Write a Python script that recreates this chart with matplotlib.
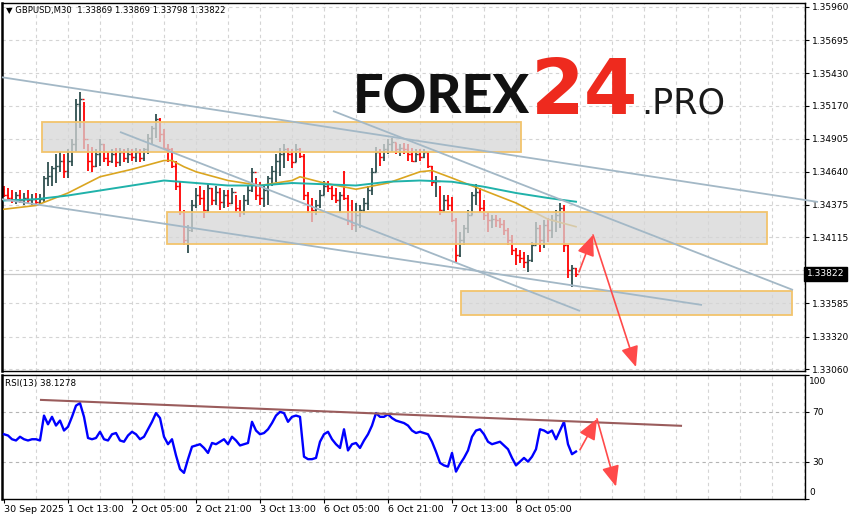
import matplotlib
matplotlib.use("Agg")
import matplotlib.pyplot as plt
import numpy as np
from matplotlib.patches import Rectangle
from matplotlib.transforms import blended_transform_factory

# ---------------- data (hourly bars, GBPUSD) ----------------
first_open = 1.3450
highs = [1.3453, 1.3451, 1.3449, 1.3448, 1.3449, 1.3447, 1.3449, 1.3446, 1.3447, 1.3446,
         1.3461, 1.3472, 1.3469, 1.3478, 1.3480, 1.3478, 1.3482, 1.3490, 1.3522, 1.3528,
         1.3520, 1.3486, 1.3484, 1.3482, 1.3490, 1.3486, 1.3480, 1.3482, 1.3483, 1.3483,
         1.3482, 1.3483, 1.3482, 1.3483, 1.3482, 1.3483, 1.3494, 1.3501, 1.3510, 1.3507,
         1.3498, 1.3486, 1.3483, 1.3473, 1.3457, 1.3433, 1.3421, 1.3441, 1.3451, 1.3453,
         1.3449, 1.3454, 1.3451, 1.3453, 1.3451, 1.3449, 1.3449, 1.3451, 1.3445, 1.3441,
         1.3445, 1.3453, 1.3467, 1.3459, 1.3456, 1.3453, 1.3461, 1.3469, 1.3478, 1.3483,
         1.3486, 1.3483, 1.3482, 1.3486, 1.3483, 1.3478, 1.3448, 1.3443, 1.3441, 1.3449,
         1.3457, 1.3457, 1.3453, 1.3451, 1.3448, 1.3465, 1.3445, 1.3441, 1.3439, 1.3437,
         1.3443, 1.3453, 1.3467, 1.3484, 1.3482, 1.3486, 1.3490, 1.3491, 1.3487, 1.3486,
         1.3487, 1.3486, 1.3483, 1.3482, 1.3482, 1.3482, 1.3480, 1.3469, 1.3461, 1.3453,
         1.3445, 1.3445, 1.3444, 1.3427, 1.3416, 1.3421, 1.3433, 1.3448, 1.3454, 1.3451,
         1.3441, 1.3432, 1.3429, 1.3429, 1.3427, 1.3425, 1.3419, 1.3413, 1.3403, 1.3401,
         1.3400, 1.3397, 1.3408, 1.3424, 1.3421, 1.3425, 1.3427, 1.3429, 1.3433, 1.3439,
         1.3437, 1.3405, 1.3389, 1.33869]
lows = [1.3444, 1.3441, 1.3439, 1.3438, 1.3439, 1.3437, 1.3438, 1.3437, 1.3437, 1.3438,
        1.3440, 1.3453, 1.3453, 1.3455, 1.3464, 1.3459, 1.3459, 1.3469, 1.3480, 1.3499,
        1.3482, 1.3465, 1.3464, 1.3468, 1.3469, 1.3472, 1.3469, 1.3471, 1.3468, 1.3469,
        1.3472, 1.3471, 1.3473, 1.3472, 1.3472, 1.3473, 1.3478, 1.3486, 1.3491, 1.3488,
        1.3482, 1.3472, 1.3467, 1.3449, 1.3429, 1.3405, 1.3399, 1.3416, 1.3435, 1.3437,
        1.3427, 1.3432, 1.3437, 1.3437, 1.3433, 1.3435, 1.3436, 1.3438, 1.3432, 1.3428,
        1.3429, 1.3437, 1.3448, 1.3441, 1.3437, 1.3436, 1.3437, 1.3453, 1.3456, 1.3461,
        1.3467, 1.3473, 1.3467, 1.3472, 1.3475, 1.3441, 1.3431, 1.3424, 1.3429, 1.3435,
        1.3445, 1.3448, 1.3441, 1.3439, 1.3431, 1.3441, 1.3421, 1.3417, 1.3416, 1.3419,
        1.3432, 1.3433, 1.3445, 1.3464, 1.3469, 1.3473, 1.3478, 1.3480, 1.3478, 1.3477,
        1.3478, 1.3473, 1.3472, 1.3472, 1.3473, 1.3475, 1.3467, 1.3453, 1.3444, 1.3429,
        1.3432, 1.3433, 1.3424, 1.3392, 1.3396, 1.3405, 1.3415, 1.3429, 1.3437, 1.3432,
        1.3425, 1.3416, 1.3419, 1.3420, 1.3419, 1.3413, 1.3405, 1.3397, 1.3389, 1.3391,
        1.3387, 1.3384, 1.3392, 1.3405, 1.3400, 1.3403, 1.3408, 1.3411, 1.3416, 1.3419,
        1.3400, 1.3379, 1.3372, 1.33798]
closes = [1.3445, 1.3443, 1.3441, 1.3445, 1.3441, 1.3443, 1.3441, 1.3442, 1.3440, 1.3442,
          1.3459, 1.3461, 1.3467, 1.3469, 1.3473, 1.3465, 1.3473, 1.3486, 1.3518, 1.3522,
          1.3490, 1.3473, 1.3469, 1.3478, 1.3486, 1.3475, 1.3473, 1.3478, 1.3472, 1.3480,
          1.3475, 1.3478, 1.3476, 1.3480, 1.3475, 1.3482, 1.3491, 1.3499, 1.3506, 1.3494,
          1.3483, 1.3482, 1.3469, 1.3453, 1.3432, 1.3409, 1.3417, 1.3437, 1.3445, 1.3443,
          1.3433, 1.3451, 1.3441, 1.3448, 1.3440, 1.3445, 1.3439, 1.3448, 1.3435, 1.3432,
          1.3441, 1.3449, 1.3464, 1.3445, 1.3443, 1.3449, 1.3459, 1.3465, 1.3473, 1.3478,
          1.3482, 1.3478, 1.3472, 1.3482, 1.3477, 1.3445, 1.3437, 1.3433, 1.3437, 1.3445,
          1.3453, 1.3451, 1.3445, 1.3441, 1.3445, 1.3443, 1.3425, 1.3421, 1.3429, 1.3433,
          1.3439, 1.3449, 1.3464, 1.3480, 1.3476, 1.3482, 1.3486, 1.3488, 1.3482, 1.3483,
          1.3482, 1.3478, 1.3473, 1.3478, 1.3476, 1.3480, 1.3469, 1.3456, 1.3457, 1.3433,
          1.3441, 1.3437, 1.3425, 1.3397, 1.3409, 1.3419, 1.3429, 1.3445, 1.3448, 1.3435,
          1.3429, 1.3425, 1.3426, 1.3425, 1.3422, 1.3417, 1.3409, 1.3401, 1.3397, 1.3395,
          1.3392, 1.3393, 1.3405, 1.3419, 1.3409, 1.3421, 1.3417, 1.3425, 1.3429, 1.3435,
          1.3405, 1.3385, 1.33869, 1.33822]

ma_orange_idx = [0, 8, 16, 24, 32, 40, 42, 45, 48, 56, 64, 72, 74, 80, 88, 96, 104, 107, 112, 120, 128, 136, 143]
ma_orange = [1.3434, 1.3437, 1.3447, 1.3460, 1.3466, 1.3473, 1.3473, 1.3468, 1.3464, 1.3457, 1.3453, 1.3457,
             1.3460, 1.3455, 1.3450, 1.3455, 1.3464, 1.3465, 1.3459, 1.3449, 1.3439, 1.3426, 1.3420]
ma_teal_idx = [0, 8, 16, 24, 32, 40, 48, 56, 64, 72, 80, 88, 96, 104, 112, 120, 128, 136, 143]
ma_teal = [1.3441, 1.3442, 1.3445, 1.3449, 1.3453, 1.3457, 1.3455, 1.3453, 1.3453, 1.3455, 1.3454, 1.3453,
           1.3456, 1.3457, 1.3456, 1.3452, 1.3447, 1.3443, 1.3440]

rsi_values = [52, 51, 48, 47, 50, 48, 47, 48, 48, 47, 67, 60, 66, 59, 63, 55, 58, 66, 75, 77,
              66, 49, 48, 49, 54, 48, 47, 52, 53, 47, 46, 51, 54, 52, 48, 50, 56, 62, 69, 65,
              50, 44, 48, 35, 24, 21, 32, 42, 43, 44, 41, 37, 45, 44, 46, 48, 44, 50, 47, 43,
              44, 45, 62, 55, 52, 53, 56, 61, 67, 70, 69, 62, 66, 67, 66, 34, 32, 32, 33, 46,
              52, 54, 48, 44, 41, 56, 39, 44, 45, 41, 47, 52, 59, 69, 66, 66, 68, 65, 63, 62,
              61, 59, 55, 53, 54, 53, 52, 46, 38, 29, 27, 26, 37, 22, 28, 33, 39, 50, 55, 56,
              52, 46, 44, 45, 46, 43, 40, 33, 27, 30, 33, 30, 34, 40, 56, 55, 53, 55, 48, 55,
              62, 44, 36, 38.1278]

price_ticks = [1.35960, 1.35695, 1.35430, 1.35170, 1.34905, 1.34640, 1.34375, 1.34115,
               1.33850, 1.33585, 1.33320, 1.33060]
time_labels = ["30 Sep 2025", "1 Oct 13:00", "2 Oct 05:00", "2 Oct 21:00", "3 Oct 13:00",
               "6 Oct 05:00", "6 Oct 21:00", "7 Oct 13:00", "8 Oct 05:00"]
time_label_idx = [0, 16, 32, 48, 64, 80, 96, 112, 128]

zones = [(9.5, 129.25, 1.3480, 1.3504),
         (40.75, 190.75, 1.34062, 1.34318),
         (114.25, 197.0, 1.33493, 1.33685)]
trend_lines = [((-0.5, 1.35397), (203.5, 1.34398)),
               ((29.0, 1.34959), (144.0, 1.33525)),
               ((82.25, 1.35127), (197.25, 1.33693)),
               ((-0.5, 1.34420), (174.5, 1.33573))]
forecast_price = [(143.75, 1.33838), (147.25, 1.34134), (158.0, 1.33076)]
rsi_trend = [(9.25, 79.6), (169.25, 58.8)]
forecast_rsi = [(144.0, 39.6), (148.25, 64.4), (153.0, 10.0)]
last_price = 1.33822
header = "\u25bc GBPUSD,M30  1.33869 1.33869 1.33798 1.33822"
rsi_label = "RSI(13) 38.1278"

# ---------------- figure ----------------
W, H = 850, 520
fig = plt.figure(figsize=(W / 100, H / 100), dpi=100)
plt.rcParams['font.family'] = ['DejaVu Sans']

def fx(px):
    return px / W

def fy(py):
    return 1 - py / H

ax = fig.add_axes([fx(2), fy(371), (805 - 2) / W, (371 - 3) / H])
axr = fig.add_axes([fx(2), fy(499), (805 - 2) / W, (499 - 374.5) / H])

xmin, xmax = -0.5, 200.25
ylo, yhi = 1.33044, 1.35992
for a in (ax, axr):
    a.set_xlim(xmin, xmax)
    for s in a.spines.values():
        s.set_color('black')
        s.set_linewidth(1.0)
ax.spines['left'].set_linewidth(1.8)
axr.spines['left'].set_linewidth(1.8)
ax.set_ylim(ylo, yhi)
axr.set_ylim(0, 100)

grid_kw = dict(color='#D4D4D4', lw=0.8, ls=(0, (3, 3)), zorder=0)
vgrid = np.arange(8, 201, 8)
for v in vgrid:
    ax.axvline(v, **grid_kw)
    axr.axvline(v, **grid_kw)
for p in price_ticks:
    ax.axhline(p, **grid_kw)

# current price line
ax.axhline(last_price, color='#C8C8C8', lw=0.9, zorder=1)

# bars
idx = np.arange(len(closes))
opens = [first_open] + closes[:-1]
cols = ['#2F4F4F' if c >= o else '#FF0000' for o, c in zip(opens, closes)]
ax.vlines(idx, lows, highs, colors=cols, lw=1.3, zorder=2)
ax.hlines(opens, idx - 0.4, idx, colors=cols, lw=1.0, zorder=2)
ax.hlines(closes, idx, idx + 0.4, colors=cols, lw=1.0, zorder=2)

# moving averages
ax.plot(ma_orange_idx, ma_orange, color='#DAA520', lw=1.2, zorder=3)
ax.plot(ma_teal_idx, ma_teal, color='#20B2AA', lw=1.4, zorder=3)

# zones
for x0, x1, p0, p1 in zones:
    ax.add_patch(Rectangle((x0, p0), x1 - x0, p1 - p0, facecolor='#D6D6D6', alpha=0.75,
                           edgecolor='none', zorder=4))
    ax.add_patch(Rectangle((x0, p0), x1 - x0, p1 - p0, facecolor='none',
                           edgecolor='#F2C46C', lw=1.3, zorder=4.5))

# trend lines
for (x0, p0), (x1, p1) in trend_lines:
    ax.plot([x0, x1], [p0, p1], color='#A3B8C6', lw=1.3, zorder=5, clip_on=False,
            solid_capstyle='butt')

arrow_col = '#FF4A4A'
def draw_arrows(a, pts):
    for (x0, y0), (x1, y1) in zip(pts[:-1], pts[1:]):
        a.annotate('', xy=(x1, y1), xytext=(x0, y0),
                   arrowprops=dict(arrowstyle='-|>,head_length=0.9,head_width=0.38',
                                   color=arrow_col, lw=1.2, shrinkA=0, shrinkB=0,
                                   mutation_scale=14),
                   annotation_clip=False, zorder=6)

draw_arrows(ax, forecast_price)

# price axis
ax.yaxis.tick_right()
ax.set_yticks(price_ticks)
ax.set_yticklabels([f"{p:.5f}" for p in price_ticks])
ax.tick_params(axis='y', length=3, width=0.8, pad=2, labelsize=6.5, colors='black')
ax.set_xticks([])

# last price label
tr = blended_transform_factory(ax.transAxes, ax.transData)
ax.text(1.002, last_price, f"{last_price:.5f}", transform=tr, color='white', fontsize=6.6,
        va='center', ha='left', zorder=10,
        bbox=dict(boxstyle='square,pad=0.25', facecolor='black', edgecolor='black'))

# header
fig.text(fx(6), fy(10), header, fontsize=6.1, va='center', ha='left', color='black')

# RSI panel
axr.plot(idx, rsi_values, color='#0000FF', lw=1.7, zorder=3)
for lvl in (70, 30):
    axr.axhline(lvl, color='#B4B4B4', lw=0.8, ls=(0, (3, 3)), zorder=1)
(rx0, rv0), (rx1, rv1) = rsi_trend
axr.plot([rx0, rx1], [rv0, rv1], color='#9A5C5C', lw=1.5, zorder=4)
draw_arrows(axr, forecast_rsi)
axr.yaxis.tick_right()
axr.set_yticks([0, 30, 70, 100])
axr.set_yticklabels(['', '30', '70', ''])
axr.tick_params(axis='y', length=3, width=0.8, pad=2, labelsize=6.5)
trr = blended_transform_factory(axr.transAxes, axr.transData)
axr.text(1.0 + 4 / 803, 98, '100', transform=trr, fontsize=6.5, va='top', ha='left')
axr.text(1.0 + 4 / 803, 2, '0', transform=trr, fontsize=6.5, va='bottom', ha='left')
axr.text(0.004, 93, rsi_label, transform=trr, fontsize=6.3, va='center', ha='left')

axr.set_xticks(time_label_idx)
axr.set_xticklabels(time_labels, ha='left')
axr.tick_params(axis='x', length=3, width=0.8, pad=1.5, labelsize=6.8)

# logo
renderer = fig.canvas.get_renderer()
def fit_text(txt, left, base, width, color, weight, family, fs0=40):
    t = fig.text(fx(left), fy(base), txt, fontsize=fs0, color=color, fontweight=weight,
                 family=family, va='baseline', ha='left', zorder=20)
    w = t.get_window_extent(renderer).width
    t.set_fontsize(fs0 * width / w)
    return t

fit_text("FOREX", 353, 113, 177, '#111111', 'black', ['Lato', 'DejaVu Sans'])
fit_text("24", 531, 114, 107, '#EE2A1E', 'bold', ['DejaVu Sans'])
fit_text(".PRO", 641, 113, 84, '#1A1A1A', 'normal', ['DejaVu Sans'])

fig.savefig("out.png", dpi=100)
